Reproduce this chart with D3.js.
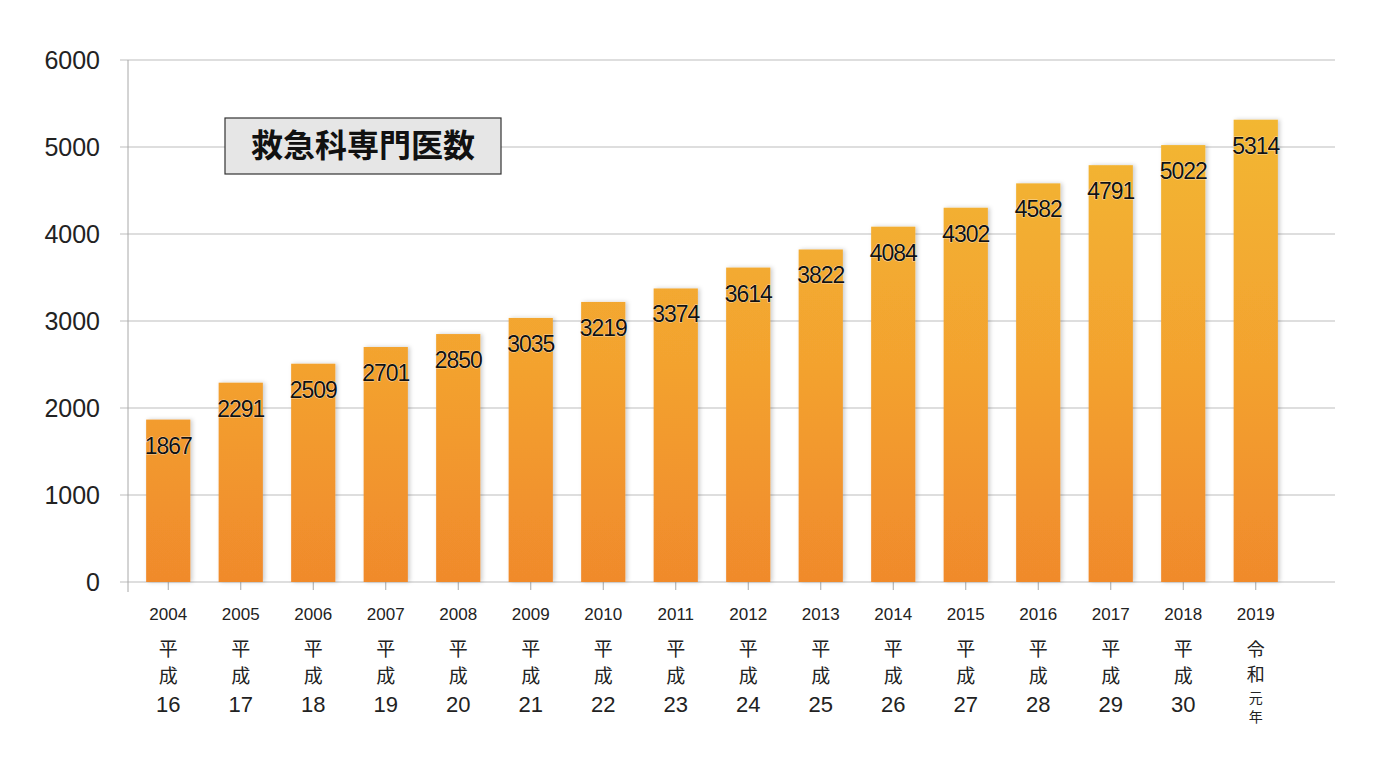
<!DOCTYPE html>
<html><head><meta charset="utf-8">
<script src="https://cdn.jsdelivr.net/npm/d3@7"></script>
<style>body{margin:0;background:#fff}svg{display:block}</style>
</head><body><div id="chart"></div>
<script>
const years = ['2004','2005','2006','2007','2008','2009','2010','2011','2012','2013','2014','2015','2016','2017','2018','2019'];
const eras = ['16','17','18','19','20','21','22','23','24','25','26','27','28','29','30','元年'];
const values = [1867,2291,2509,2701,2850,3035,3219,3374,3614,3822,4084,4302,4582,4791,5022,5314];
const yTicks = [0,1000,2000,3000,4000,5000,6000];
const title = '救急科専門医数';

const W = 1390, H = 772;
const m = { t: 60, r: 55, b: 190, l: 128 };
const font = "'Liberation Sans', Arial, sans-serif";
const jfont = "'Noto Sans CJK JP', sans-serif";

const svg = d3.select('#chart').append('svg').attr('width', W).attr('height', H);
const defs = svg.append('defs');

const x = d3.scaleBand().domain(years).range([132, 1292]).paddingInner(0.39).paddingOuter(0.195);
const y = d3.scaleLinear().domain([0, 6000]).range([H - m.b, m.t]);

const grad = defs.append('linearGradient').attr('id', 'bar').attr('gradientUnits', 'userSpaceOnUse')
  .attr('x1', 0).attr('x2', 0).attr('y1', y(0)).attr('y2', y(5500));
grad.append('stop').attr('offset', 0).attr('stop-color', '#f08a2c');
grad.append('stop').attr('offset', 0.45).attr('stop-color', '#f3a22f');
grad.append('stop').attr('offset', 1).attr('stop-color', '#f2b832');

const sh = defs.append('filter').attr('id', 'sh').attr('x', '-20%').attr('y', '-10%').attr('width', '140%').attr('height', '120%');
sh.append('feDropShadow').attr('dx', 2).attr('dy', 0).attr('stdDeviation', 2).attr('flood-color', '#000').attr('flood-opacity', 0.2);

// grid
svg.append('g').selectAll('line').data(yTicks).join('line')
  .attr('x1', m.l - 8).attr('x2', W - m.r).attr('y1', d => y(d)).attr('y2', d => y(d))
  .attr('stroke', '#bdbdbd').attr('stroke-width', 1);

// axes
svg.append('line').attr('x1', m.l).attr('x2', m.l).attr('y1', m.t).attr('y2', y(0) + 10).attr('stroke', '#a8a8a8');
svg.append('g').selectAll('line').data(years).join('line')
  .attr('x1', d => x(d) + x.bandwidth() / 2).attr('x2', d => x(d) + x.bandwidth() / 2)
  .attr('y1', y(0)).attr('y2', y(0) + 8).attr('stroke', '#a8a8a8');

svg.append('g').selectAll('text').data(yTicks).join('text')
  .attr('x', 100).attr('y', d => y(d) + 9).attr('text-anchor', 'end')
  .attr('font-family', font).attr('font-size', 25).attr('fill', '#222').text(d => d);

// bars
svg.append('g').selectAll('rect').data(values).join('rect')
  .attr('x', (d, i) => x(years[i])).attr('width', x.bandwidth())
  .attr('y', d => y(d)).attr('height', d => y(0) - y(d))
  .attr('fill', 'url(#bar)').attr('filter', 'url(#sh)');

// value labels
svg.append('g').selectAll('text').data(values).join('text')
  .attr('x', (d, i) => x(years[i]) + x.bandwidth() / 2).attr('y', d => y(d) + 34)
  .attr('text-anchor', 'middle').attr('font-family', font).attr('font-size', 23)
  .attr('letter-spacing', -1).attr('fill', '#111')
  .attr('stroke', '#fff').attr('stroke-width', 0.6).attr('paint-order', 'stroke').text(d => d);

// x labels
const xl = svg.append('g').selectAll('g').data(years).join('g')
  .attr('transform', d => `translate(${x(d) + x.bandwidth() / 2},0)`);
xl.append('text').attr('y', 620).attr('text-anchor', 'middle').attr('font-family', font)
  .attr('font-size', 17).attr('fill', '#222').text(d => d);
xl.each(function (d, i) {
  const g = d3.select(this);
  const era = eras[i];
  if (era === '元年') {
    g.append('text').attr('y', 656).attr('text-anchor', 'middle').attr('font-family', jfont).attr('font-size', 18).attr('fill', '#222').text('令');
    g.append('text').attr('y', 681).attr('text-anchor', 'middle').attr('font-family', jfont).attr('font-size', 18).attr('fill', '#222').text('和');
    g.append('text').attr('y', 703).attr('text-anchor', 'middle').attr('font-family', jfont).attr('font-size', 14).attr('fill', '#222').text('元');
    g.append('text').attr('y', 722).attr('text-anchor', 'middle').attr('font-family', jfont).attr('font-size', 14).attr('fill', '#222').text('年');
  } else {
    g.append('text').attr('y', 656).attr('text-anchor', 'middle').attr('font-family', jfont).attr('font-size', 19).attr('fill', '#222').text('平');
    g.append('text').attr('y', 683).attr('text-anchor', 'middle').attr('font-family', jfont).attr('font-size', 19).attr('fill', '#222').text('成');
    g.append('text').attr('y', 712).attr('text-anchor', 'middle').attr('font-family', font).attr('font-size', 22).attr('fill', '#222').text(era);
  }
});

// title box
svg.append('rect').attr('x', 225).attr('y', 118).attr('width', 276).attr('height', 56)
  .attr('fill', '#e6e6e6').attr('stroke', '#333').attr('stroke-width', 1.2);
svg.append('text').attr('x', 363).attr('y', 157).attr('text-anchor', 'middle')
  .attr('font-family', jfont).attr('font-weight', 'bold').attr('font-size', 32).attr('fill', '#111').text(title);
</script></body></html>
